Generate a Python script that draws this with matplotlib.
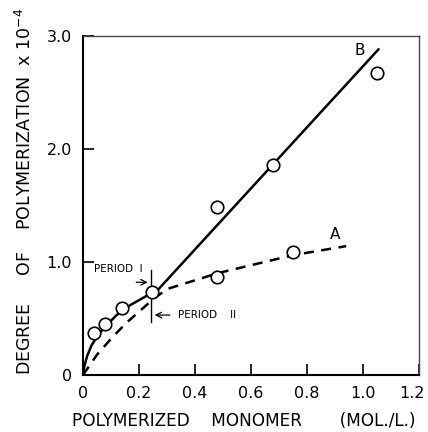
import matplotlib
matplotlib.use("Agg")
import matplotlib.pyplot as plt
from matplotlib.transforms import ScaledTranslation

plt.rcParams["font.family"] = ["DejaVu Sans"]

# measured points (open circles)
pts_x = [0.04, 0.08, 0.14, 0.245, 0.48, 0.75, 0.48, 0.68, 1.05]
pts_y = [0.37, 0.45, 0.59, 0.73, 0.87, 1.09, 1.49, 1.86, 2.67]

# curve B (solid)
b_x = [0.0, 0.005, 0.015, 0.03, 0.05, 0.08, 0.12, 0.17, 0.22, 0.27, 1.055]
b_y = [0.0, 0.08, 0.17, 0.26, 0.34, 0.43, 0.53, 0.62, 0.69, 0.76, 2.88]

# curve A (dashed)
a_x = [0.0, 0.05, 0.10, 0.15, 0.20, 0.25, 0.30, 0.48, 0.75, 0.94]
a_y = [0.0, 0.18, 0.32, 0.45, 0.56, 0.67, 0.76, 0.90, 1.06, 1.14]

x_ticks = [0, 0.2, 0.4, 0.6, 0.8, 1.0, 1.2]
x_labels = ["0", "0.2", "0.4", "0.6", "0.8", "1.0", "1.2"]
y_ticks = [0, 1.0, 2.0, 3.0]
y_labels = ["0", "1.0", "2.0", "3.0"]

fig = plt.figure(figsize=(4.28, 4.32), dpi=100)
ax = fig.add_axes([0.194, 0.132, 0.785, 0.785])

ax.plot(b_x, b_y, color="black", lw=1.8, zorder=2)
ax.plot(a_x, a_y, color="black", lw=1.8, ls=(0, (4, 3)), zorder=2)
ax.plot(pts_x, pts_y, "o", ms=9, mfc="white", mec="black", mew=1.2, zorder=3)

ax.set_xlim(0, 1.2)
ax.set_ylim(0, 3.0)
ax.set_xticks(x_ticks)
ax.set_xticklabels(x_labels)
ax.set_yticks(y_ticks)
ax.set_yticklabels(y_labels)
ax.tick_params(direction="in", length=8, width=1.2, labelsize=11.5, pad=8)
for s in ["left", "bottom"]:
    ax.spines[s].set_linewidth(1.5)
for s in ["top", "right"]:
    ax.spines[s].set_linewidth(1.0)
    ax.spines[s].set_color("#444444")

# nudge the last x label so it stays inside the figure
last = ax.get_xticklabels()[-1]
last.set_transform(last.get_transform() + ScaledTranslation(-5 / 72, 0, fig.dpi_scale_trans))

# period markers
ax.plot([0.243, 0.243], [0.47, 0.93], color="black", lw=1.0)
ax.annotate("", xy=(0.241, 0.82), xytext=(0.18, 0.82),
            arrowprops=dict(arrowstyle="->", lw=0.9, color="black"))
ax.annotate("", xy=(0.246, 0.53), xytext=(0.32, 0.53),
            arrowprops=dict(arrowstyle="->", lw=0.9, color="black"))
ax.text(0.04, 0.94, "PERIOD  I", fontsize=7.5, va="center", ha="left")
ax.text(0.34, 0.53, "PERIOD    II", fontsize=7.5, va="center", ha="left")

ax.text(0.9, 1.24, "A", fontsize=11, ha="center", va="center")
ax.text(0.99, 2.87, "B", fontsize=11, ha="center", va="center")

ax.set_xlabel("POLYMERIZED    MONOMER       (MOL./L.)", fontsize=12.2)
ax.xaxis.set_label_coords(0.479, -0.11)
ax.set_ylabel("DEGREE     OF    POLYMERIZATION  x 10$^{-4}$", fontsize=12.5)
ax.yaxis.set_label_coords(-0.143, 0.54)

fig.savefig("out.png", dpi=100)
